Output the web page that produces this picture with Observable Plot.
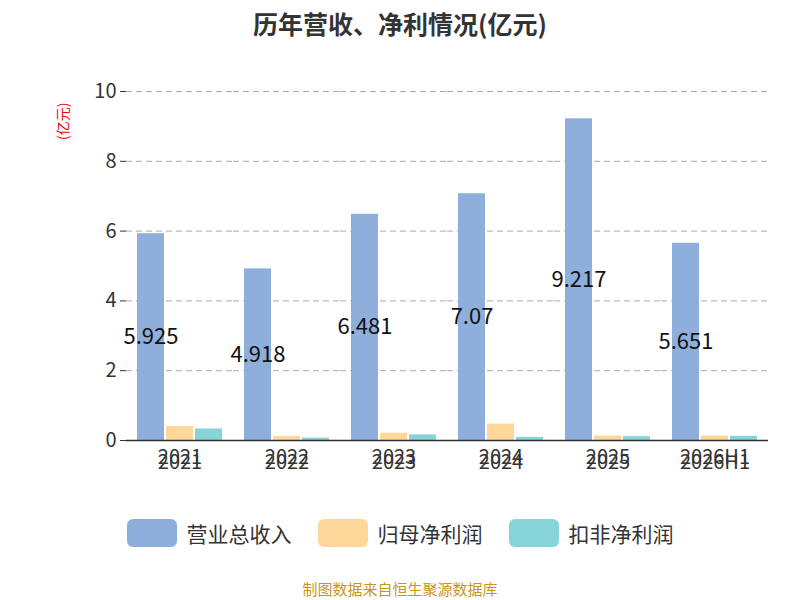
<!DOCTYPE html>
<html><head><meta charset="utf-8">
<script src="https://cdn.jsdelivr.net/npm/d3@7"></script>
<script src="https://cdn.jsdelivr.net/npm/@observablehq/plot@0.6"></script>
<style>
body{margin:0;font-family:"Noto Sans CJK SC","Noto Sans",sans-serif;}
#wrap{position:relative;width:800px;height:600px;overflow:hidden}
#title{position:absolute;top:5px;width:800px;text-align:center;font-size:25px;font-weight:bold;color:#333}
#unit{position:absolute;left:52px;color:#e00;font-size:14px;transform:rotate(-90deg);transform-origin:left top;top:140px}
#legend{position:absolute;top:518px;width:800px;display:flex;justify-content:center;gap:26px;font-size:21px;color:#333}
#legend span{display:flex;align-items:center}
#legend i{display:inline-block;width:50px;height:28px;border-radius:6px;margin-right:10px}
#src{position:absolute;top:578px;width:800px;text-align:center;font-size:15px;color:#c8961e}
#chart{position:absolute;top:0;left:0}
</style></head><body>
<div id="wrap">
<div id="chart"></div>
<div id="title">历年营收、净利情况(亿元)</div>
<div id="unit">(亿元)</div>
<div id="legend"></div>
<div id="src">制图数据来自恒生聚源数据库</div>
</div>
<script>
const years=["2021","2022","2023","2024","2025","2026H1"];
const series=["营业总收入","归母净利润","扣非净利润"];
const colors=["#8eaedb","#fdd89a","#86d4d8"];
const revenue=[5.925,4.918,6.481,7.07,9.217,5.651];
const netProfit=[0.40,0.12,0.21,0.47,0.13,0.13];
const deductedProfit=[0.33,0.07,0.16,0.09,0.11,0.12];
const data=[];
years.forEach((y,i)=>{
  data.push({year:y,s:series[0],v:revenue[i]});
  data.push({year:y,s:series[1],v:netProfit[i]});
  data.push({year:y,s:series[2],v:deductedProfit[i]});
});
const labels=data.filter(d=>d.s===series[0]);
const plot=Plot.plot({
  width:800,height:600,
  marginLeft:125,marginRight:32,marginTop:91,marginBottom:160,
  style:{fontFamily:"Noto Sans CJK SC, Noto Sans, sans-serif",fontSize:"20px",color:"#333"},
  fx:{domain:years,padding:0,label:null,axis:"bottom"},
  x:{domain:series,paddingInner:0.07,paddingOuter:0.35,axis:null},
  y:{domain:[0,10],ticks:[0,2,4,6,8,10],label:null},
  color:{domain:series,range:colors},
  marks:[
    Plot.gridY([2,4,6,8,10],{stroke:"#aaa",strokeOpacity:1,strokeDasharray:"6,4"}),
    Plot.barY(data,{fx:"year",x:"s",y:"v",fill:"s"}),
    Plot.text(labels,{fx:"year",x:"s",y:d=>d.v/2,text:d=>String(d.v),fontSize:22,fill:"#111"}),
    Plot.ruleY([0],{stroke:"#333",strokeWidth:1.5}),
    Plot.tickY(labels,{fx:"year",y:0,frameAnchor:"left",dy:0}),
    Plot.axisY({ticks:[0,2,4,6,8,10],tickSize:6,fontSize:20,label:null,tickPadding:4}),
    Plot.ruleX([0],{frameAnchor:"left",stroke:"#333",strokeWidth:1.5}),
    Plot.axisFx({anchor:"bottom",tickSize:0,fontSize:20,label:null,tickPadding:14})
  ]
});
document.getElementById("chart").appendChild(plot);
const lg=document.getElementById("legend");
series.forEach((s,i)=>{const e=document.createElement("span");e.innerHTML=`<i style="background:${colors[i]}"></i>${s}`;lg.appendChild(e);});
</script>
</body></html>
